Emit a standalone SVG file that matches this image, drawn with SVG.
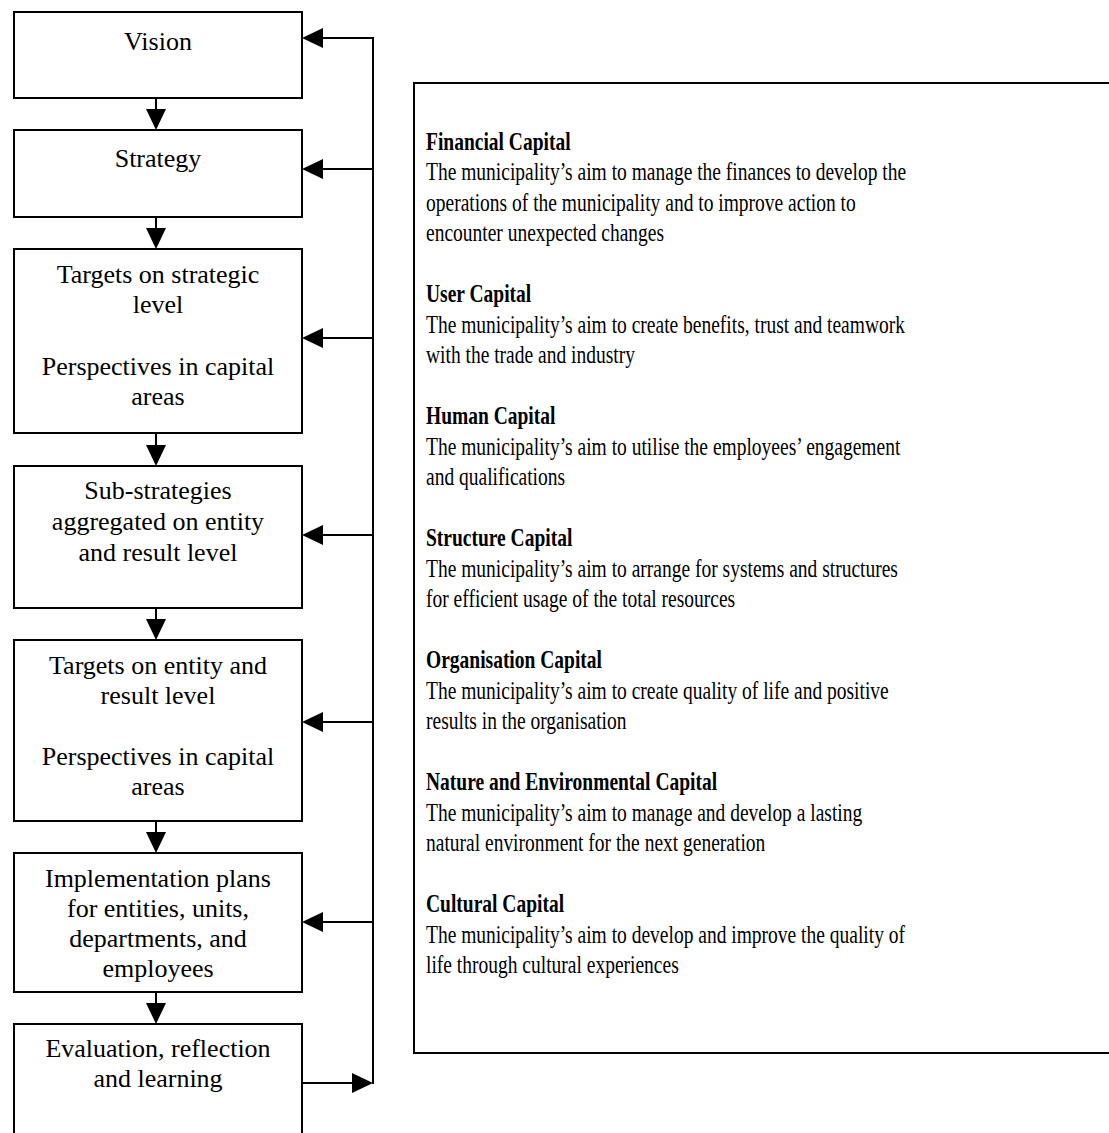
<svg xmlns="http://www.w3.org/2000/svg" width="1109" height="1133" viewBox="0 0 1109 1133">
  <style>
    .box { fill: #ffffff; stroke: #000000; stroke-width: 2; }
    .wire { fill: none; stroke: #000000; stroke-width: 2; }
    .label { font-family: "Liberation Serif", "Times New Roman", serif; font-size: 26px; fill: #000000; text-anchor: middle; }
    .desc { font-family: "Liberation Serif", "Times New Roman", serif; font-size: 26px; fill: #000000; }
    .head { font-weight: bold; }
  </style>
  <defs>
    <marker id="arrow" markerUnits="userSpaceOnUse" markerWidth="21" markerHeight="20" refX="0" refY="10" orient="auto">
      <path d="M0,0 L21,10 L0,20 z" fill="#000000"/>
    </marker>
  </defs>
  <rect width="1109" height="1133" fill="#ffffff"/>

  <!-- process chain -->
  <g id="vision">
    <rect class="box" x="14" y="12" width="288" height="86"/>
    <text class="label" x="158" y="50">Vision</text>
  </g>
  <g id="strategy">
    <rect class="box" x="14" y="130" width="288" height="87"/>
    <text class="label" x="158" y="167">Strategy</text>
  </g>
  <g id="targets-strategic">
    <rect class="box" x="14" y="249" width="288" height="184"/>
    <text class="label" x="158" y="283">Targets on strategic</text>
    <text class="label" x="158" y="313">level</text>
    <text class="label" x="158" y="375">Perspectives in capital</text>
    <text class="label" x="158" y="405">areas</text>
  </g>
  <g id="sub-strategies">
    <rect class="box" x="14" y="466" width="288" height="142"/>
    <text class="label" x="158" y="499">Sub-strategies</text>
    <text class="label" x="158" y="530">aggregated on entity</text>
    <text class="label" x="158" y="561">and result level</text>
  </g>
  <g id="targets-entity">
    <rect class="box" x="14" y="640" width="288" height="181"/>
    <text class="label" x="158" y="674">Targets on entity and</text>
    <text class="label" x="158" y="704">result level</text>
    <text class="label" x="158" y="765">Perspectives in capital</text>
    <text class="label" x="158" y="795">areas</text>
  </g>
  <g id="implementation">
    <rect class="box" x="14" y="853" width="288" height="139"/>
    <text class="label" x="158" y="887">Implementation plans</text>
    <text class="label" x="158" y="917">for entities, units,</text>
    <text class="label" x="158" y="947">departments, and</text>
    <text class="label" x="158" y="977">employees</text>
  </g>
  <g id="evaluation">
    <rect class="box" x="14" y="1024" width="288" height="130"/>
    <text class="label" x="158" y="1057">Evaluation, reflection</text>
    <text class="label" x="158" y="1087">and learning</text>
  </g>

  <!-- capital areas -->
  <g id="capitals">
    <rect class="box" x="414" y="83" width="700" height="970"/>
    <g transform="translate(426,0) scale(0.75,1)">
      <text class="desc head" x="0" y="150">Financial Capital</text>
      <text class="desc" x="0" y="180.5">The municipality’s aim to manage the finances to develop the</text>
      <text class="desc" x="0" y="211">operations of the municipality and to improve action to</text>
      <text class="desc" x="0" y="241.5">encounter unexpected changes</text>
      <text class="desc head" x="0" y="302.5">User Capital</text>
      <text class="desc" x="0" y="333">The municipality’s aim to create benefits, trust and teamwork</text>
      <text class="desc" x="0" y="363.5">with the trade and industry</text>
      <text class="desc head" x="0" y="424.5">Human Capital</text>
      <text class="desc" x="0" y="455">The municipality’s aim to utilise the employees’ engagement</text>
      <text class="desc" x="0" y="485.5">and qualifications</text>
      <text class="desc head" x="0" y="546.5">Structure Capital</text>
      <text class="desc" x="0" y="577">The municipality’s aim to arrange for systems and structures</text>
      <text class="desc" x="0" y="607.5">for efficient usage of the total resources</text>
      <text class="desc head" x="0" y="668.5">Organisation Capital</text>
      <text class="desc" x="0" y="699">The municipality’s aim to create quality of life and positive</text>
      <text class="desc" x="0" y="729.5">results in the organisation</text>
      <text class="desc head" x="0" y="790.5">Nature and Environmental Capital</text>
      <text class="desc" x="0" y="821">The municipality’s aim to manage and develop a lasting</text>
      <text class="desc" x="0" y="851.5">natural environment for the next generation</text>
      <text class="desc head" x="0" y="912.5">Cultural Capital</text>
      <text class="desc" x="0" y="943">The municipality’s aim to develop and improve the quality of</text>
      <text class="desc" x="0" y="973.5">life through cultural experiences</text>
    </g>
  </g>

  <!-- connectors -->
  <g id="connectors">
    <line class="wire" x1="156" y1="98" x2="156" y2="109" marker-end="url(#arrow)"/>
    <line class="wire" x1="156" y1="217" x2="156" y2="228" marker-end="url(#arrow)"/>
    <line class="wire" x1="156" y1="433" x2="156" y2="445" marker-end="url(#arrow)"/>
    <line class="wire" x1="156" y1="608" x2="156" y2="619" marker-end="url(#arrow)"/>
    <line class="wire" x1="156" y1="821" x2="156" y2="832" marker-end="url(#arrow)"/>
    <line class="wire" x1="156" y1="992" x2="156" y2="1003" marker-end="url(#arrow)"/>

    <!-- feedback loop -->
    <path class="wire" d="M302,1083 L352,1083" marker-end="url(#arrow)"/>
    <line class="wire" x1="373" y1="37" x2="373" y2="1084"/>
    <line class="wire" x1="374" y1="38" x2="323" y2="38" marker-end="url(#arrow)"/>
    <line class="wire" x1="374" y1="169" x2="323" y2="169" marker-end="url(#arrow)"/>
    <line class="wire" x1="374" y1="338" x2="323" y2="338" marker-end="url(#arrow)"/>
    <line class="wire" x1="374" y1="535" x2="323" y2="535" marker-end="url(#arrow)"/>
    <line class="wire" x1="374" y1="722" x2="323" y2="722" marker-end="url(#arrow)"/>
    <line class="wire" x1="374" y1="922" x2="323" y2="922" marker-end="url(#arrow)"/>
  </g>
</svg>
